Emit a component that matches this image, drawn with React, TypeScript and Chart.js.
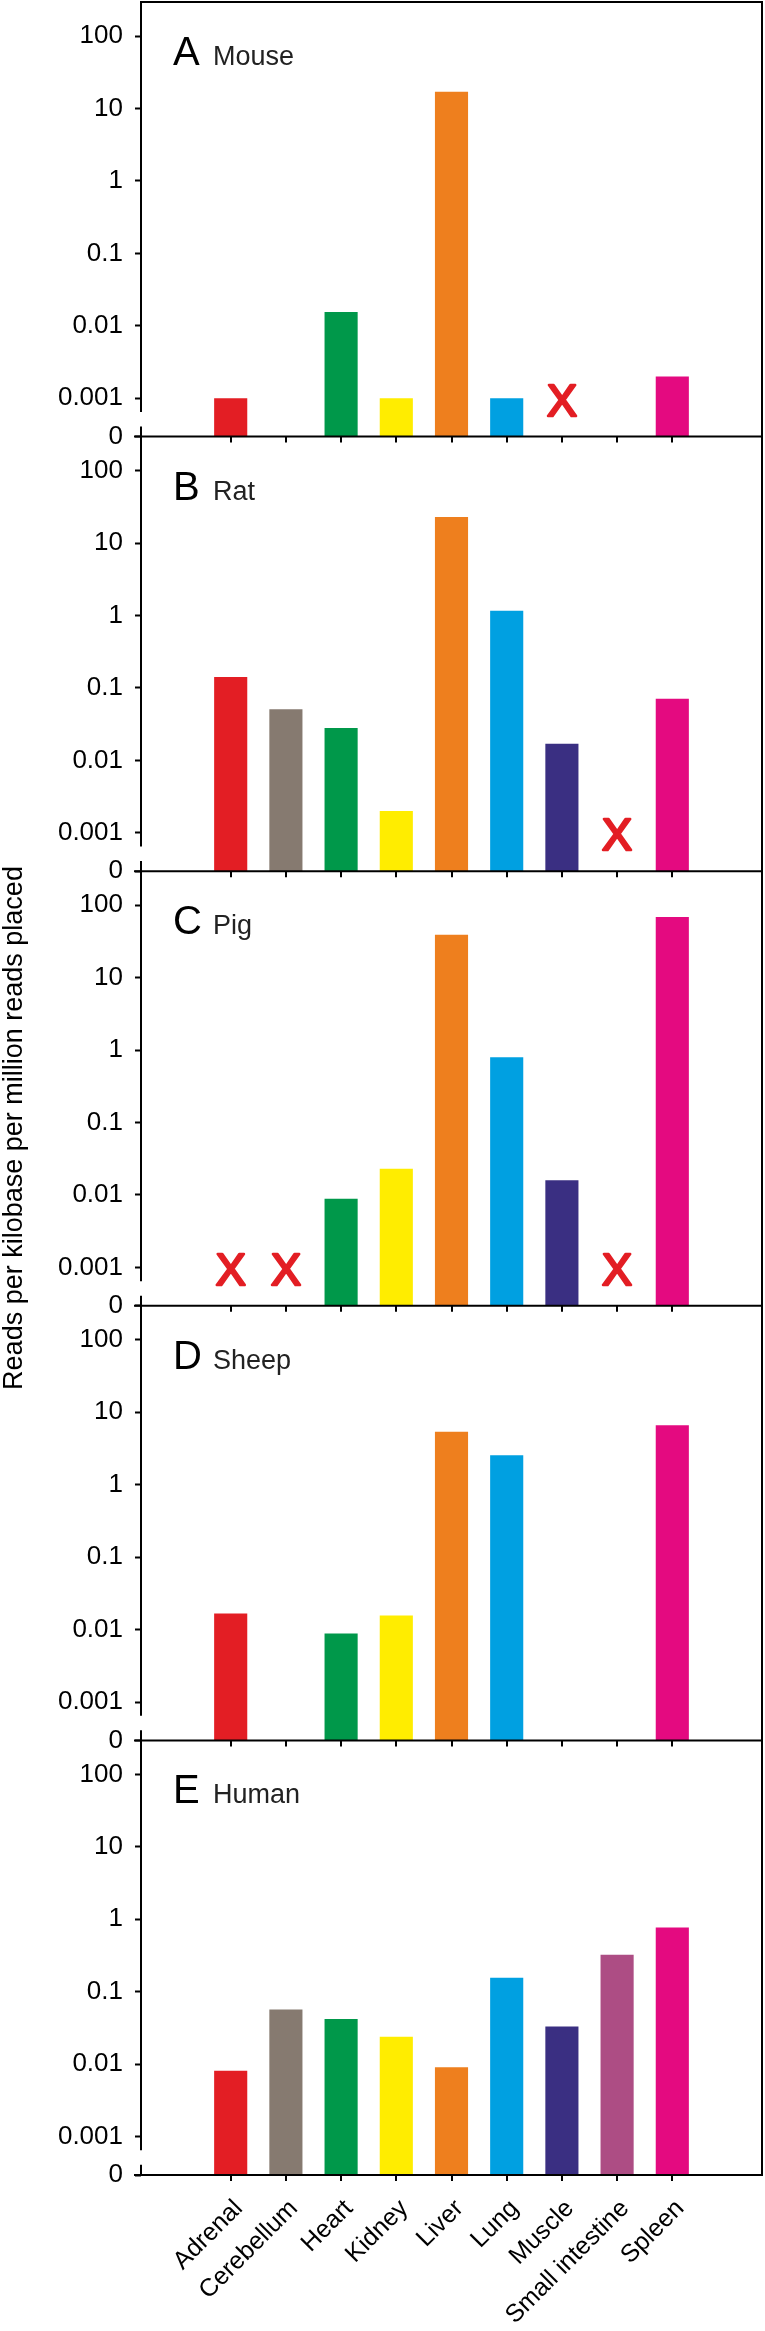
import React, { useEffect, useRef } from 'react';
import { Chart, registerables } from 'chart.js';

Chart.register(...registerables);

// ---------- data ----------
const categories = ['Adrenal', 'Cerebellum', 'Heart', 'Kidney', 'Liver', 'Lung', 'Muscle', 'Small intestine', 'Spleen'];
const barColors = ['#E31E24', '#867A70', '#00984A', '#FFED00', '#EE7F1E', '#00A0E1', '#3A2F82', '#AD4D84', '#E40A80'];

const panelLetters = ['A', 'B', 'C', 'D', 'E'];
const speciesNames = ['Mouse', 'Rat', 'Pig', 'Sheep', 'Human'];

const mouseValues = [0.001, null, 0.0155, 0.001, 17, 0.001, null, null, 0.002];
const ratValues = [0.142, 0.051, 0.028, 0.002, 23, 1.16, 0.017, null, 0.071];
const pigValues = [null, null, 0.0089, 0.023, 39, 0.8, 0.016, null, 69];
const sheepValues = [0.0167, null, 0.0088, 0.0157, 5.4, 2.56, null, null, 6.6];
const humanValues = [0.0081, 0.057, 0.042, 0.024, 0.0091, 0.156, 0.033, 0.324, 0.77];

const mouseMissing = ['Muscle'];
const ratMissing = ['Small intestine'];
const pigMissing = ['Adrenal', 'Cerebellum', 'Small intestine'];
const sheepMissing: string[] = [];
const humanMissing: string[] = [];

const yTickValues = [0.001, 0.01, 0.1, 1, 10, 100];
const yTickLabels = ['0.001', '0.01', '0.1', '1', '10', '100'];
const zeroLabel = '0';
const yTitle = 'Reads per kilobase per million reads placed';
const missingMark = 'X';

const panelValues = [mouseValues, ratValues, pigValues, sheepValues, humanValues];
const panelMissing = [mouseMissing, ratMissing, pigMissing, sheepMissing, humanMissing];

// ---------- scale / style constants ----------
const Y_MIN = Math.pow(10, -3.53);
const Y_MAX = Math.pow(10, 2.47);
const MISSING_LEVEL = Math.pow(10, -3.07);
const BREAK_HIGH = Math.pow(10, -3.19);
const BREAK_LOW = Math.pow(10, -3.39);
const FONT = '"Liberation Sans", Arial, Helvetica, sans-serif';
const W = 765;
const H = 2331;

const panelIds = panelLetters.map((l) => 'y' + l);

const drawPlugin = {
  id: 'panelDecor',
  afterDatasetsDraw(chart: any) {
    const ctx = chart.ctx;
    const area = chart.chartArea;
    const xs = chart.scales.x;
    ctx.save();
    ctx.strokeStyle = '#000';
    ctx.lineWidth = 2;
    ctx.lineCap = 'butt';
    // top border & right border
    ctx.beginPath();
    ctx.moveTo(area.left - 1, area.top);
    ctx.lineTo(area.right + 1, area.top);
    ctx.moveTo(area.right, area.top);
    ctx.lineTo(area.right, area.bottom + 1);
    ctx.stroke();

    panelIds.forEach((id, k) => {
      const s = chart.scales[id];
      const top = s.top;
      const bottom = s.bottom;
      // left axis with break
      ctx.strokeStyle = '#000';
      ctx.lineWidth = 2;
      ctx.beginPath();
      ctx.moveTo(area.left, top);
      ctx.lineTo(area.left, s.getPixelForValue(BREAK_HIGH));
      ctx.moveTo(area.left, s.getPixelForValue(BREAK_LOW));
      ctx.lineTo(area.left, bottom);
      ctx.stroke();
      // baseline
      ctx.beginPath();
      ctx.moveTo(area.left - 7, bottom);
      ctx.lineTo(area.right + 1, bottom);
      ctx.stroke();
      // category tick marks below baseline
      ctx.beginPath();
      categories.forEach((_, i) => {
        const px = Math.round(xs.getPixelForValue(i + 1));
        ctx.moveTo(px, bottom);
        ctx.lineTo(px, bottom + 6);
      });
      ctx.stroke();

      // panel label
      ctx.fillStyle = '#000';
      ctx.textBaseline = 'alphabetic';
      ctx.textAlign = 'left';
      ctx.font = `40px ${FONT}`;
      ctx.fillText(panelLetters[k], area.left + 32, top + 63);
      ctx.fillStyle = '#222';
      ctx.font = `27px ${FONT}`;
      ctx.fillText(speciesNames[k], area.left + 72, top + 63);

      // missing markers
      ctx.fillStyle = '#E31E24';
      ctx.strokeStyle = '#E31E24';
      ctx.lineWidth = 2.5;
      ctx.lineJoin = 'round';
      ctx.font = `45px ${FONT}`;
      ctx.textAlign = 'center';
      ctx.textBaseline = 'middle';
      panelMissing[k].forEach((name) => {
        const i = categories.indexOf(name);
        const px = xs.getPixelForValue(i + 1);
        const py = s.getPixelForValue(MISSING_LEVEL);
        ctx.fillText(missingMark, px, py);
        ctx.strokeText(missingMark, px, py);
      });
    });

    // y title
    ctx.save();
    ctx.fillStyle = '#000';
    ctx.font = `27px ${FONT}`;
    ctx.textAlign = 'center';
    ctx.textBaseline = 'alphabetic';
    ctx.translate(22, 1128);
    ctx.rotate(-Math.PI / 2);
    ctx.fillText(yTitle, 0, 0);
    ctx.restore();

    ctx.restore();
  },
};

function makeYScale(k: number) {
  return {
    type: 'logarithmic',
    position: 'left',
    stack: 'panels',
    stackWeight: 1,
    weight: panelLetters.length - k,
    min: Y_MIN,
    max: Y_MAX,
    afterBuildTicks: (s: any) => {
      s.ticks = [Y_MIN, ...yTickValues].map((v) => ({ value: v }));
    },
    afterFit: (s: any) => {
      s.width = 141;
      s.paddingTop = 0;
      s.paddingBottom = 0;
    },
    ticks: {
      autoSkip: false,
      padding: 12,
      color: '#000',
      font: { family: FONT, size: 26 },
      callback: (_v: any, i: number) => (i === 0 ? zeroLabel : yTickLabels[i - 1]),
    },
    grid: {
      drawOnChartArea: false,
      drawTicks: true,
      tickLength: 6,
      tickWidth: 2,
      color: '#000',
    },
    border: { display: false },
  };
}

export default function App() {
  const ref = useRef<HTMLCanvasElement | null>(null);

  useEffect(() => {
    document.body.style.margin = '0';
    const canvas = ref.current;
    if (!canvas) return;

    const scales: any = {
      x: {
        type: 'linear',
        position: 'bottom',
        min: 0,
        max: 10,
        afterBuildTicks: (s: any) => {
          s.ticks = categories.map((_, i) => ({ value: i + 1 }));
        },
        afterFit: (s: any) => {
          s.height = 156;
          s.paddingLeft = 0;
          s.paddingRight = 0;
        },
        ticks: {
          autoSkip: false,
          minRotation: 45,
          maxRotation: 45,
          labelOffset: 8,
          padding: 19,
          color: '#000',
          font: { family: FONT, size: 25 },
          callback: (v: any) => categories[Math.round(Number(v)) - 1],
        },
        grid: { display: false, drawTicks: false },
        border: { display: false },
      },
    };
    panelIds.forEach((id, k) => {
      scales[id] = makeYScale(k);
    });

    const datasets = panelValues.map((vals, k) => ({
      label: speciesNames[k],
      yAxisID: panelIds[k],
      data: vals.map((v, i) => ({ x: i + 1, y: v })),
      backgroundColor: barColors,
      borderWidth: 0,
      grouped: false,
      barPercentage: 0.6,
      categoryPercentage: 1.0,
    }));

    const chart = new Chart(canvas, {
      type: 'bar',
      data: { datasets } as any,
      options: {
        responsive: false,
        animation: false,
        events: [],
        devicePixelRatio: 1,
        layout: { padding: { top: 2, right: 3, left: 0, bottom: 0 } },
        plugins: { legend: { display: false }, tooltip: { enabled: false } },
        scales,
      } as any,
      plugins: [drawPlugin],
    });
    return () => chart.destroy();
  }, []);

  return (
    <div style={{ position: 'absolute', left: 0, top: 0, width: W, height: H, background: '#fff' }}>
      <canvas ref={ref} width={W} height={H} style={{ display: 'block', width: W, height: H }} />
    </div>
  );
}
